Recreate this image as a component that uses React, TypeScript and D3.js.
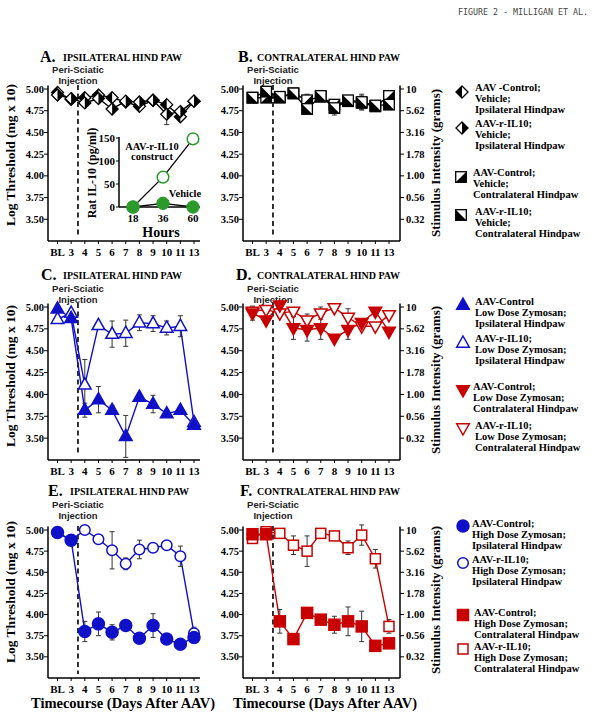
import React from "react";
import * as d3 from "d3";

const DAYS = ["BL", "3", "4", "5", "6", "7", "8", "9", "10", "11", "13"];
const Y_TICKS = [5.0, 4.75, 4.5, 4.25, 4.0, 3.75, 3.5];
const GRAM_LABELS = ["10", "5.62", "3.16", "1.78", "1.00", "0.56", "0.32"];

// Panel A: vehicle, ipsilateral
const A_CTRL = [4.96, 4.88, 4.90, 4.93, 4.90, 4.85, 4.80, 4.87, 4.82, 4.68, 4.86];
const A_CTRL_SEM = [0.02, 0.02, 0.02, 0.02, 0.02, 0.02, 0.02, 0.02, 0.03, 0.03, 0.02];
const A_IL10 = [4.93, 4.89, 4.84, 4.89, 4.77, 4.86, 4.85, 4.87, 4.71, 4.74, 4.86];
const A_IL10_SEM = [0.02, 0.02, 0.02, 0.02, 0.02, 0.02, 0.02, 0.02, 0.12, 0.03, 0.02];
// Panel B: vehicle, contralateral
const B_CTRL = [4.90, 4.90, 4.90, 4.95, 4.87, 4.91, 4.82, 4.86, 4.84, 4.80, 4.92];
const B_CTRL_SEM = [0.02, 0.02, 0.02, 0.02, 0.07, 0.02, 0.02, 0.02, 0.08, 0.02, 0.02];
const B_IL10 = [4.90, 4.97, 4.91, 4.95, 4.77, 4.92, 4.78, 4.87, 4.85, 4.81, 4.82];
const B_IL10_SEM = [0.02, 0.02, 0.02, 0.02, 0.02, 0.02, 0.08, 0.02, 0.09, 0.02, 0.02];
// Panel C: low dose zymosan, ipsilateral
const C_CTRL = [4.98, 4.87, 3.82, 3.94, 3.82, 3.52, 3.97, 3.89, 3.78, 3.82, 3.65];
const C_CTRL_SEM = [0.02, 0.03, 0.08, 0.15, 0.05, 0.24, 0.03, 0.10, 0.04, 0.03, 0.03];
const C_IL10 = [4.86, 4.93, 4.11, 4.79, 4.69, 4.70, 4.82, 4.81, 4.76, 4.78, 3.68];
const C_IL10_SEM = [0.02, 0.02, 0.29, 0.03, 0.15, 0.15, 0.09, 0.09, 0.08, 0.12, 0.03];
// Panel D: low dose zymosan, contralateral
const D_CTRL = [4.93, 4.85, 5.02, 4.76, 4.74, 4.76, 4.64, 4.74, 4.82, 4.95, 4.72];
const D_CTRL_SEM = [0.08, 0.03, 0.02, 0.13, 0.13, 0.13, 0.03, 0.11, 0.03, 0.03, 0.03];
const D_IL10 = [4.95, 4.97, 4.93, 4.95, 4.85, 4.93, 4.99, 4.88, 4.78, 4.78, 4.91];
const D_IL10_SEM = [0.02, 0.02, 0.02, 0.03, 0.07, 0.07, 0.02, 0.10, 0.03, 0.03, 0.02];
// Panel E: high dose zymosan, ipsilateral
const E_CTRL = [4.97, 4.88, 3.80, 3.89, 3.79, 3.87, 3.72, 3.87, 3.71, 3.65, 3.73];
const E_CTRL_SEM = [0.02, 0.02, 0.12, 0.14, 0.09, 0.03, 0.03, 0.14, 0.03, 0.03, 0.03];
const E_IL10 = [4.97, 4.88, 5.0, 4.89, 4.76, 4.60, 4.77, 4.79, 4.82, 4.69, 3.78];
const E_IL10_SEM = [0.02, 0.02, 0.02, 0.03, 0.22, 0.07, 0.11, 0.03, 0.03, 0.12, 0.07];
// Panel F: high dose zymosan, contralateral
const F_CTRL = [4.95, 4.95, 3.92, 3.71, 4.02, 3.94, 3.88, 3.92, 3.86, 3.63, 3.66];
const F_CTRL_SEM = [0.02, 0.02, 0.14, 0.03, 0.03, 0.03, 0.10, 0.17, 0.18, 0.03, 0.03];
const F_IL10 = [4.90, 4.98, 4.96, 4.82, 4.75, 4.96, 4.93, 4.79, 4.94, 4.66, 3.86];
const F_IL10_SEM = [0.02, 0.02, 0.02, 0.11, 0.18, 0.03, 0.03, 0.08, 0.12, 0.11, 0.08];

// Inset: Rat IL-10 (pg/ml)
const INSET_HOURS = ["18", "36", "60"];
const INSET_TICKS = [0, 50, 100, 150];
const INSET_CONSTRUCT = [0, 65, 148];
const INSET_VEHICLE = [0, 8, 0];

const BLUE = "#1010c8";
const RED = "#c80000";
const GREEN = "#2a9a2a";
const SERIF = "'Liberation Serif', 'Times New Roman', serif";
const SANS = "'Liberation Sans', Arial, sans-serif";

const COL_X = [48, 243];
const ROW_TOP = [89, 307, 530];
const ROW_BOT = [241, 460, 678];
const TITLE_Y = [62, 280, 496];
const PERI_Y = [73, 292, 508];

type MarkerKind =
  | "diamondL" | "diamondR" | "sqBR" | "sqBL"
  | "triUpFill" | "triUpOpen" | "triDownFill" | "triDownOpen"
  | "circFill" | "circOpen" | "sqFill" | "sqOpen";

function Marker({ kind, x, y, color }: { kind: MarkerKind; x: number; y: number; color: string }) {
  const h = 6;
  switch (kind) {
    case "diamondL":
    case "diamondR": {
      const half = kind === "diamondL"
        ? `M0,${-h}L${-h},0L0,${h}Z`
        : `M0,${-h}L${h},0L0,${h}Z`;
      return (
        <g transform={`translate(${x},${y})`}>
          <path d={`M0,${-h}L${h},0L0,${h}L${-h},0Z`} fill="#fff" />
          <path d={half} fill="#000" />
          <path d={`M0,${-h}L${h},0L0,${h}L${-h},0Z`} fill="none" stroke="#000" strokeWidth={1.3} />
        </g>
      );
    }
    case "sqBR":
    case "sqBL": {
      const s = 5.3;
      const tri = kind === "sqBR"
        ? `M${s},${-s}L${s},${s}L${-s},${s}Z`
        : `M${-s},${-s}L${s},${s}L${-s},${s}Z`;
      return (
        <g transform={`translate(${x},${y})`}>
          <rect x={-s} y={-s} width={2 * s} height={2 * s} fill="#fff" />
          <path d={tri} fill="#000" />
          <rect x={-s} y={-s} width={2 * s} height={2 * s} fill="none" stroke="#000" strokeWidth={1.3} />
        </g>
      );
    }
    case "triUpFill":
    case "triUpOpen": {
      const d = `M0,-7L6.3,4.2L-6.3,4.2Z`;
      return (
        <path transform={`translate(${x},${y})`} d={d}
          fill={kind === "triUpFill" ? color : "#fff"} stroke={color} strokeWidth={1.5} />
      );
    }
    case "triDownFill":
    case "triDownOpen": {
      const d = `M0,7L6.3,-4.2L-6.3,-4.2Z`;
      return (
        <path transform={`translate(${x},${y})`} d={d}
          fill={kind === "triDownFill" ? color : "#fff"} stroke={color} strokeWidth={1.5} />
      );
    }
    case "circFill":
    case "circOpen":
      return (
        <circle cx={x} cy={y} r={kind === "circFill" ? 6 : 5.3}
          fill={kind === "circFill" ? color : "#fff"} stroke={color} strokeWidth={1.5} />
      );
    case "sqFill":
    case "sqOpen": {
      const s = kind === "sqFill" ? 5.5 : 5;
      return (
        <rect x={x - s} y={y - s} width={2 * s} height={2 * s}
          fill={kind === "sqFill" ? color : "#fff"} stroke={color} strokeWidth={1.5} />
      );
    }
  }
  return null;
}

type Series = { values: number[]; sem: number[]; kind: MarkerKind; color: string; line: string };

type PanelDef = { col: number; row: number; letter: string; title: string; letterX: number; textX: number; series: Series[] };

const PANELS: PanelDef[] = [
  { col: 0, row: 0, letter: "A.", title: "IPSILATERAL HIND PAW", letterX: 40, textX: 63,
    series: [
      { values: A_CTRL, sem: A_CTRL_SEM, kind: "diamondL", color: "#000", line: "#000" },
      { values: A_IL10, sem: A_IL10_SEM, kind: "diamondR", color: "#000", line: "#000" },
    ] },
  { col: 1, row: 0, letter: "B.", title: "CONTRALATERAL HIND PAW", letterX: 238, textX: 257,
    series: [
      { values: B_CTRL, sem: B_CTRL_SEM, kind: "sqBR", color: "#000", line: "#000" },
      { values: B_IL10, sem: B_IL10_SEM, kind: "sqBL", color: "#000", line: "#000" },
    ] },
  { col: 0, row: 1, letter: "C.", title: "IPSILATERAL HIND PAW", letterX: 41, textX: 63,
    series: [
      { values: C_IL10, sem: C_IL10_SEM, kind: "triUpOpen", color: BLUE, line: BLUE },
      { values: C_CTRL, sem: C_CTRL_SEM, kind: "triUpFill", color: BLUE, line: BLUE },
    ] },
  { col: 1, row: 1, letter: "D.", title: "CONTRALATERAL HIND PAW", letterX: 236, textX: 257,
    series: [
      { values: D_IL10, sem: D_IL10_SEM, kind: "triDownOpen", color: RED, line: RED },
      { values: D_CTRL, sem: D_CTRL_SEM, kind: "triDownFill", color: RED, line: RED },
    ] },
  { col: 0, row: 2, letter: "E.", title: "IPSILATERAL HIND PAW", letterX: 48, textX: 70,
    series: [
      { values: E_IL10, sem: E_IL10_SEM, kind: "circOpen", color: BLUE, line: BLUE },
      { values: E_CTRL, sem: E_CTRL_SEM, kind: "circFill", color: BLUE, line: BLUE },
    ] },
  { col: 1, row: 2, letter: "F.", title: "CONTRALATERAL HIND PAW", letterX: 240, textX: 257,
    series: [
      { values: F_IL10, sem: F_IL10_SEM, kind: "sqOpen", color: RED, line: RED },
      { values: F_CTRL, sem: F_CTRL_SEM, kind: "sqFill", color: RED, line: RED },
    ] },
];

type LegendItem = { kind: MarkerKind; color: string; mx: number; my: number; tx: number; ty: number; lines: string[] };

const LEGENDS: LegendItem[] = [
  { kind: "diamondL", color: "#000", mx: 462, my: 92, tx: 475, ty: 92, lines: ["AAV -Control;", "Vehicle;", "Ipsilateral Hindpaw"] },
  { kind: "diamondR", color: "#000", mx: 462, my: 128, tx: 475, ty: 128, lines: ["AAV-r-IL10;", "Vehicle;", "Ipsilateral Hindpaw"] },
  { kind: "sqBR", color: "#000", mx: 461, my: 177, tx: 473, ty: 177, lines: ["AAV-Control;", "Vehicle;", "Contralateral Hindpaw"] },
  { kind: "sqBL", color: "#000", mx: 461, my: 215, tx: 475, ty: 216, lines: ["AAV-r-IL10;", "Vehicle;", "Contralateral Hindpaw"] },
  { kind: "triUpFill", color: BLUE, mx: 463, my: 305, tx: 475, ty: 306, lines: ["AAV-Control", "Low Dose Zymosan;", "Ipsilateral Hindpaw"] },
  { kind: "triUpOpen", color: BLUE, mx: 463, my: 343, tx: 475, ty: 343, lines: ["AAV-r-IL10;", "Low Dose Zymosan;", "Ipsilateral Hindpaw"] },
  { kind: "triDownFill", color: RED, mx: 463, my: 390, tx: 473, ty: 391, lines: ["AAV-Control;", "Low Dose Zymosan;", "Contralateral Hindpaw"] },
  { kind: "triDownOpen", color: RED, mx: 463, my: 428, tx: 475, ty: 430, lines: ["AAV-r-IL10;", "Low Dose Zymosan;", "Contralateral Hindpaw"] },
  { kind: "circFill", color: BLUE, mx: 463, my: 526, tx: 472, ty: 528, lines: ["AAV-Control;", "High Dose Zymosan;", "Ipsilateral Hindpaw"] },
  { kind: "circOpen", color: BLUE, mx: 463, my: 563, tx: 472, ty: 564, lines: ["AAV-r-IL10;", "High Dose Zymosan;", "Ipsilateral Hindpaw"] },
  { kind: "sqFill", color: RED, mx: 463, my: 615, tx: 474, ty: 617, lines: ["AAV-Control;", "High Dose Zymosan;", "Contralateral Hindpaw"] },
  { kind: "sqOpen", color: RED, mx: 463, my: 649, tx: 474, ty: 651, lines: ["AAV-r-IL10;", "High Dose Zymosan;", "Contralateral Hindpaw"] },
];

function Panel({ p }: { p: PanelDef }) {
  const ax = COL_X[p.col];
  const top = ROW_TOP[p.row];
  const bot = ROW_BOT[p.row];
  const right = p.col === 0 ? ax + 152 : 400;
  const x = d3.scalePoint<string>().domain(DAYS).range([ax + 9.5, ax + 146]);
  const y = d3.scaleLinear().domain([3.25, 5.0]).range([bot, top]);
  const line = d3.line<number>().x((_, i) => x(DAYS[i]) as number).y((v) => y(v));
  const dashX = ((x("3") as number) + (x("4") as number)) / 2;
  return (
    <g>
      {/* titles */}
      <text x={p.letterX} y={TITLE_Y[p.row]} fontFamily={SERIF} fontWeight="bold" fontSize={16}>{p.letter}</text>
      <text x={p.textX} y={TITLE_Y[p.row] - 1} fontFamily={SERIF} fontWeight="bold" fontSize={10}>{p.title}</text>
      {/* injection label */}
      <text x={dashX} y={PERI_Y[p.row]} textAnchor="middle" fontFamily={SANS} fontWeight="bold" fontSize={9.5} fill="#222">Peri-Sciatic</text>
      <text x={dashX} y={PERI_Y[p.row] + 11} textAnchor="middle" fontFamily={SANS} fontWeight="bold" fontSize={9.5} fill="#222">Injection</text>
      {/* axes */}
      <line x1={ax} x2={ax} y1={y(5.04)} y2={bot} stroke="#000" strokeWidth={1.5} />
      <line x1={ax} x2={right} y1={bot} y2={bot} stroke="#000" strokeWidth={1.5} />
      {Y_TICKS.map((t) => (
        <g key={t}>
          <line x1={ax - 4} x2={ax} y1={y(t)} y2={y(t)} stroke="#000" strokeWidth={1} />
          <text x={ax - 4} y={y(t) + 3.5} textAnchor="end" fontFamily={SERIF} fontWeight="bold" fontSize={10.5}>{t.toFixed(2)}</text>
        </g>
      ))}
      {DAYS.map((d) => (
        <g key={d}>
          <line x1={x(d)} x2={x(d)} y1={bot} y2={bot + 3} stroke="#000" strokeWidth={1} />
          <text x={x(d)} y={bot + 15} textAnchor="middle" fontFamily={SERIF} fontWeight="bold" fontSize={11}>{d}</text>
        </g>
      ))}
      {p.col === 1 && (
        <g>
          <line x1={right} x2={right} y1={y(5.04)} y2={bot} stroke="#000" strokeWidth={1.5} />
          {Y_TICKS.map((t, i) => (
            <g key={t}>
              <line x1={right} x2={right + 4} y1={y(t)} y2={y(t)} stroke="#000" strokeWidth={1} />
              <text x={right + 6} y={y(t) + 3.5} fontFamily={SERIF} fontWeight="bold" fontSize={10.5}>{GRAM_LABELS[i]}</text>
            </g>
          ))}
        </g>
      )}
      {/* dashed injection line */}
      <line x1={dashX} x2={dashX} y1={top - 4} y2={bot - 4} stroke="#000" strokeWidth={1.6} strokeDasharray="5,3.5" />
      {/* series lines */}
      {p.series.map((s, si) => (
        <path key={"l" + si} d={line(s.values) || ""} fill="none" stroke={s.line} strokeWidth={1.4} />
      ))}
      {/* error bars */}
      {p.series.map((s, si) => (
        <g key={"e" + si} stroke="#333" strokeWidth={1}>
          {s.values.map((v, i) => {
            const cx = x(DAYS[i]) as number;
            const e = s.sem[i];
            return (
              <g key={i}>
                <line x1={cx} x2={cx} y1={y(v + e)} y2={y(v - e)} />
                <line x1={cx - 2.5} x2={cx + 2.5} y1={y(v + e)} y2={y(v + e)} />
                <line x1={cx - 2.5} x2={cx + 2.5} y1={y(v - e)} y2={y(v - e)} />
              </g>
            );
          })}
        </g>
      ))}
      {/* markers */}
      {p.series.map((s, si) => (
        <g key={"m" + si}>
          {s.values.map((v, i) => (
            <Marker key={i} kind={s.kind} x={x(DAYS[i]) as number} y={y(v)} color={s.color} />
          ))}
        </g>
      ))}
    </g>
  );
}

function Inset() {
  const ax = 119;
  const base = 207;
  const x = d3.scalePoint<string>().domain(INSET_HOURS).range([133, 193]);
  const y = d3.scaleLinear().domain([0, 150]).range([base, 138]);
  const line = d3.line<number>().x((_, i) => x(INSET_HOURS[i]) as number).y((v) => y(v));
  return (
    <g>
      <line x1={ax} x2={ax} y1={y(152)} y2={base} stroke="#000" strokeWidth={1.5} />
      <line x1={ax} x2={200} y1={base} y2={base} stroke="#000" strokeWidth={1.5} />
      {INSET_TICKS.map((t) => (
        <g key={t}>
          <line x1={ax - 3} x2={ax} y1={y(t)} y2={y(t)} stroke="#000" />
          <text x={ax - 4} y={y(t) + 4} textAnchor="end" fontFamily={SERIF} fontWeight="bold" fontSize={11}>{t}</text>
        </g>
      ))}
      {INSET_HOURS.map((h) => (
        <text key={h} x={x(h)} y={222} textAnchor="middle" fontFamily={SERIF} fontWeight="bold" fontSize={11}>{h}</text>
      ))}
      <text x={161} y={237} textAnchor="middle" fontFamily={SERIF} fontWeight="bold" fontSize={14}>Hours</text>
      <text transform={`translate(96,173) rotate(-90)`} textAnchor="middle" fontFamily={SERIF} fontWeight="bold" fontSize={12}>Rat IL-10 (pg/ml)</text>
      <text x={152} y={150} textAnchor="middle" fontFamily={SERIF} fontWeight="bold" fontSize={10.5}>AAV-r-IL10</text>
      <text x={152} y={159.5} textAnchor="middle" fontFamily={SERIF} fontWeight="bold" fontSize={10.5}>construct</text>
      <text x={185} y={197} textAnchor="middle" fontFamily={SERIF} fontWeight="bold" fontSize={10.5}>Vehicle</text>
      <path d={line(INSET_CONSTRUCT) || ""} fill="none" stroke="#000" strokeWidth={1.3} />
      <path d={line(INSET_VEHICLE) || ""} fill="none" stroke="#000" strokeWidth={1.3} />
      {INSET_CONSTRUCT.map((v, i) => (
        <circle key={"c" + i} cx={x(INSET_HOURS[i])} cy={y(v)} r={5.8} fill="#fff" stroke={GREEN} strokeWidth={1.5} />
      ))}
      {INSET_VEHICLE.map((v, i) => (
        <circle key={"v" + i} cx={x(INSET_HOURS[i])} cy={y(v)} r={6.2} fill={GREEN} stroke={GREEN} strokeWidth={1} />
      ))}
    </g>
  );
}

export default function App() {
  const leftLabelY = [155, 376, 592];
  const rightLabelY = [163, 380, 600];
  return (
    <svg width={600} height={713} style={{ position: "absolute", left: 0, top: 0, background: "#fff" }}
      xmlns="http://www.w3.org/2000/svg">
      <rect width={600} height={713} fill="#fff" />
      <text x={458} y={15} fontFamily="'DejaVu Sans Mono', monospace" fontSize={8.3} fill="#444">FIGURE 2 - MILLIGAN ET AL.</text>
      {PANELS.map((p, i) => <Panel key={i} p={p} />)}
      <Inset />
      {leftLabelY.map((cy, i) => (
        <text key={"ll" + i} transform={`translate(15,${cy}) rotate(-90)`} textAnchor="middle" fontFamily={SERIF} fontWeight="bold" fontSize={13.5}>Log Threshold (mg x 10)</text>
      ))}
      {rightLabelY.map((cy, i) => (
        <text key={"rl" + i} transform={`translate(440,${cy}) rotate(-90)`} textAnchor="middle" fontFamily={SERIF} fontWeight="bold" fontSize={13}>Stimulus Intensity (grams)</text>
      ))}
      <text x={123} y={708} textAnchor="middle" fontFamily={SERIF} fontWeight="bold" fontSize={14.5}>Timecourse (Days After AAV)</text>
      <text x={325} y={708} textAnchor="middle" fontFamily={SERIF} fontWeight="bold" fontSize={14.5}>Timecourse (Days After AAV)</text>
      {LEGENDS.map((l, i) => (
        <g key={"lg" + i}>
          <Marker kind={l.kind} x={l.mx} y={l.my} color={l.color} />
          {l.lines.map((t, j) => (
            <text key={j} x={l.tx} y={l.ty - 1 + j * 11} fontFamily={SERIF} fontWeight="bold" fontSize={10.5}>{t}</text>
          ))}
        </g>
      ))}
    </svg>
  );
}
